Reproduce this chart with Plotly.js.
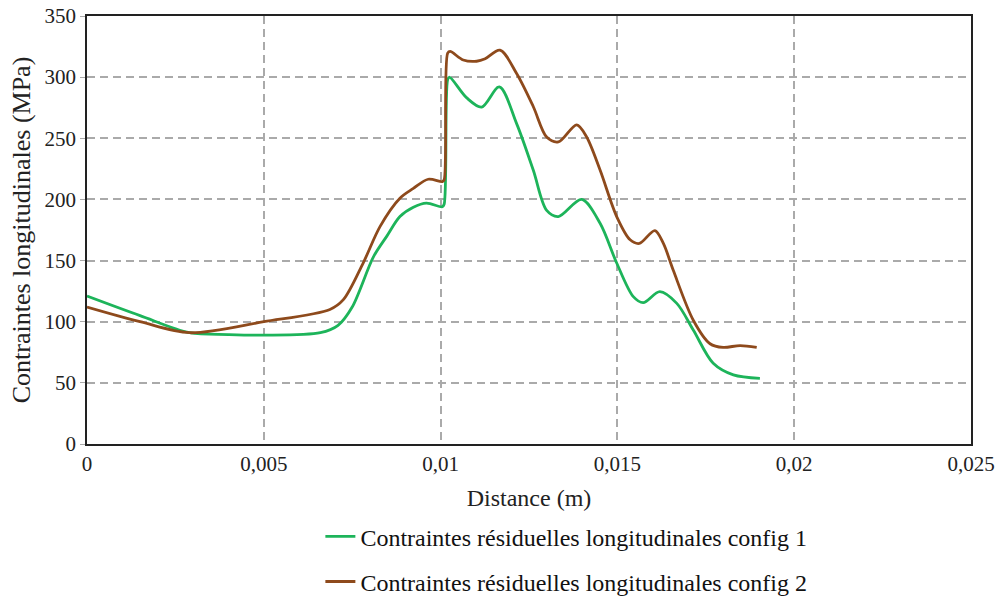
<!DOCTYPE html>
<html><head><meta charset="utf-8">
<script src="https://cdn.plot.ly/plotly-3.0.1.min.js"></script>
<style>html,body{margin:0;padding:0;background:#fff}#chart{width:995px;height:601px}</style>
</head><body><div id="chart"></div>
<script>
const xConfig1 = [0, 0.0015, 0.0029, 0.004, 0.005, 0.0066, 0.0071, 0.0075, 0.0081, 0.00848, 0.00885, 0.00923, 0.0096, 0.01005, 0.0101, 0.0102, 0.01025, 0.01074, 0.01116, 0.01166, 0.01215, 0.01262, 0.013, 0.01333, 0.01399, 0.01451, 0.01498, 0.01545, 0.01573, 0.0162, 0.01668, 0.01715, 0.01771, 0.01828, 0.01903];
const yConfig1 = [121, 105, 91, 89.5, 89, 91, 97, 112, 153, 170, 186, 193.6, 197, 194, 196, 298, 300, 283, 275.5, 292, 262, 224, 191, 186, 200, 180.5, 148, 120.5, 115.6, 124.6, 115, 93, 66, 56.5, 53.7];
const xConfig2 = [0, 0.0015, 0.0029, 0.005, 0.00687, 0.00725, 0.00781, 0.00829, 0.00885, 0.00923, 0.00965, 0.01005, 0.0101, 0.0102, 0.01027, 0.01064, 0.01102, 0.01126, 0.01168, 0.01215, 0.01262, 0.013, 0.01333, 0.01385, 0.01413, 0.01451, 0.01498, 0.01536, 0.01562, 0.01606, 0.0163, 0.01658, 0.01715, 0.01762, 0.01799, 0.01847, 0.01894];
const yConfig2 = [112, 100, 91, 100, 110, 118, 148, 178, 201, 209, 216.5, 214.6, 216, 319.6, 321, 314, 313, 315, 322, 303, 276, 251, 247, 261, 251, 224, 186, 167, 164, 174.5, 164, 142, 101, 82, 79, 80.5, 79];
const xTickVals = [0, 0.005, 0.01, 0.015, 0.02, 0.025];
const xTickText = ["0", "0,005", "0,01", "0,015", "0,02", "0,025"];
const names = ["Contraintes résiduelles longitudinales config 1", "Contraintes résiduelles longitudinales config 2"];

const font = "Liberation Serif, Times New Roman, serif";
const traces = [
  {x: xConfig1, y: yConfig1, name: names[0], mode: "lines", legendgroup: "a",
   line: {color: "#1DB45A", width: 2.8, shape: "spline", smoothing: 0.9}},
  {x: xConfig2, y: yConfig2, name: names[1], mode: "lines", legendgroup: "b",
   line: {color: "#8E4A1C", width: 2.8, shape: "spline", smoothing: 0.9}}
];
const layout = {
  width: 995, height: 601,
  margin: {l: 87, r: 24, t: 16, b: 157, autoexpand: false},
  paper_bgcolor: "#fff", plot_bgcolor: "#fff",
  font: {family: font, color: "#222", size: 21},
  showlegend: true,
  legend: {x: 0.264, xanchor: "left", y: -0.164, yanchor: "top", orientation: "v",
    traceorder: "grouped", tracegroupgap: 11, font: {family: font, size: 24, color: "#111"}},
  xaxis: {range: [0, 0.025], tickvals: xTickVals, ticktext: xTickText, automargin: false,
    showgrid: true, gridcolor: "#aaaaaa", griddash: "8px,5px", gridwidth: 1.5,
    showline: true, linecolor: "#222", linewidth: 1.5, mirror: true,
    zeroline: false, ticks: "", tickfont: {size: 21},
    title: {text: "Distance (m)", font: {size: 24, family: font}, standoff: 14}},
  yaxis: {range: [0, 350], dtick: 50, tick0: 0, automargin: false,
    showgrid: true, gridcolor: "#aaaaaa", griddash: "8px,5px", gridwidth: 1.5,
    showline: true, linecolor: "#222", linewidth: 1.5, mirror: true,
    zeroline: false, ticks: "outside", ticklen: 5, tickcolor: "#aaaaaa", tickfont: {size: 21},
    title: {text: "Contraintes longitudinales (MPa)", font: {size: 26, family: font}, standoff: 6}}
};
Plotly.newPlot("chart", traces, layout, {displayModeBar: false});
</script></body></html>
